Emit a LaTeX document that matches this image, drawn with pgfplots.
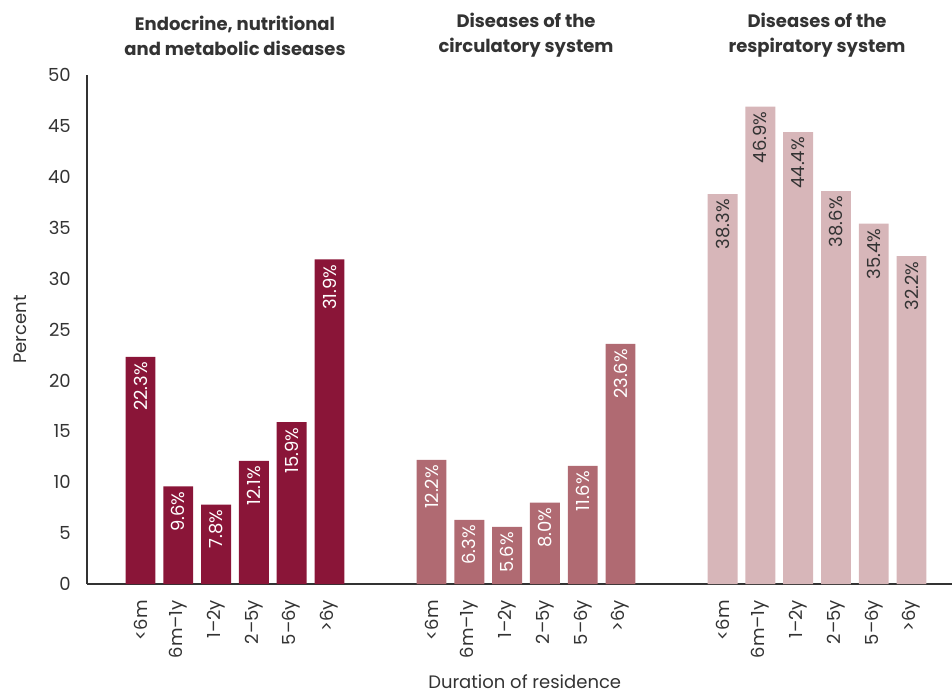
\documentclass[border=0pt]{standalone}
\usepackage{fontspec}
\setmainfont{Poppins}
\usepackage{pgfplots}
\pgfplotsset{compat=1.18}
\definecolor{c1}{HTML}{8A1538}
\definecolor{c2}{HTML}{B06A72}
\definecolor{c3}{HTML}{D7B6B9}
\definecolor{txt}{HTML}{333333}
\newcommand{\f}{\fontsize{18}{25}\selectfont}
\begin{document}
\begin{tikzpicture}[x=1pt,y=1pt]
\useasboundingbox (-87,-109) rectangle (865,584);
\begin{axis}[
  at={(0,0)}, anchor=south west, scale only axis,
  width=865pt, height=509pt,
  xmin=-1.415, xmax=21.47, ymin=0, ymax=50,
  enlargelimits=false, clip=false,
  axis x line*=bottom, axis y line*=left,
  axis line style={txt, line width=1.2pt},
  major tick length=0pt,
  ytick={0,5,...,50},
  xtick={0,1,2,3,4,5,7.7,8.7,9.7,10.7,11.7,12.7,15.4,16.4,17.4,18.4,19.4,20.4},
  xticklabels={<6m,6m–1y,1–2y,2–5y,5–6y,>6y,<6m,6m–1y,1–2y,2–5y,5–6y,>6y,<6m,6m–1y,1–2y,2–5y,5–6y,>6y},
  xticklabel style={rotate=90, anchor=east, inner sep=0pt, font=\f, text=txt},
  xticklabel shift=16pt,
  yticklabel style={anchor=east, inner sep=0pt, font=\f, text=txt},
  yticklabel shift=16pt,
  /pgf/number format/assume math mode=true,
  ylabel={Percent},
  every axis y label/.style={at={(axis description cs:-0.0775,0.5)}, rotate=90, anchor=center, font=\f, text=txt},
  xlabel={Duration of residence},
  every axis x label/.style={at={(axis description cs:0.506,-0.191)}, anchor=center, font=\f, text=txt},
  nodes near coords={\pgfmathprintnumber[fixed,fixed zerofill,precision=1]{\pgfplotspointmeta}\%},
  every node near coord/.append style={rotate=90, anchor=east, inner sep=0pt, inner xsep=5pt, font=\f},
]
\addplot[ybar, bar shift=0pt, bar width=0.79, fill=c1, draw=none, nodes near coords style={text=white}]
  coordinates {(0,22.3) (1,9.6) (2,7.8) (3,12.1) (4,15.9) (5,31.9)};
\addplot[ybar, bar shift=0pt, bar width=0.79, fill=c2, draw=none, nodes near coords style={text=white}]
  coordinates {(7.7,12.2) (8.7,6.3) (9.7,5.6) (10.7,8.0) (11.7,11.6) (12.7,23.6)};
\addplot[ybar, bar shift=0pt, bar width=0.79, fill=c3, draw=none, nodes near coords style={text=txt}]
  coordinates {(15.4,38.3) (16.4,46.9) (17.4,44.4) (18.4,38.6) (19.4,35.4) (20.4,32.2)};
\node[align=center, font=\f\bfseries, text=txt, yshift=39.5pt] at (axis cs:2.5,50) {Endocrine, nutritional\\and metabolic diseases};
\node[align=center, font=\f\bfseries, text=txt, yshift=39.5pt] at (axis cs:10.2,50) {Diseases of the\\circulatory system};
\node[align=center, font=\f\bfseries, text=txt, yshift=39.5pt] at (axis cs:17.9,50) {Diseases of the\\respiratory system};
\end{axis}
\end{tikzpicture}
\end{document}
